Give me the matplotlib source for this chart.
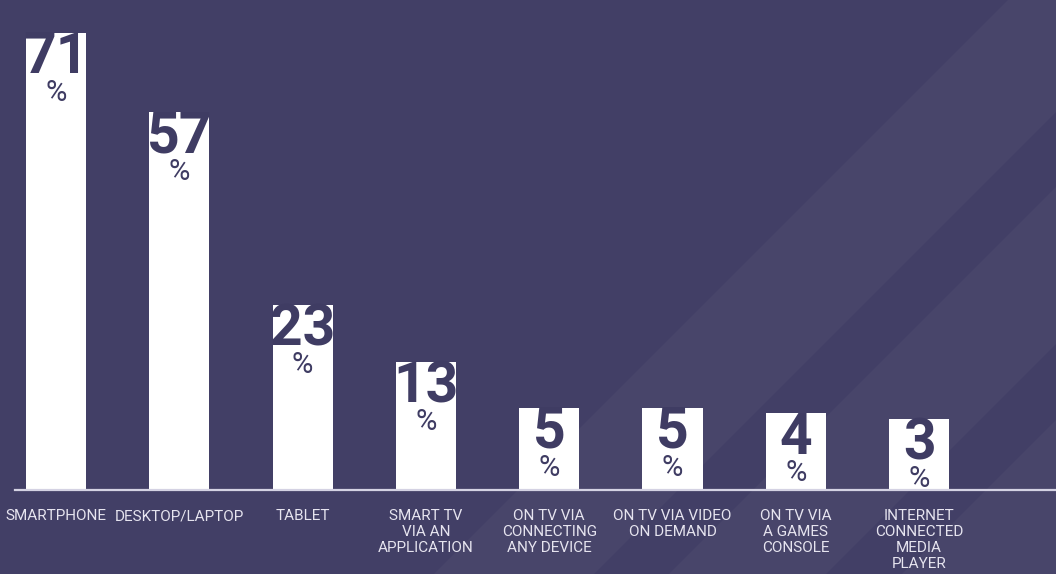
import matplotlib.pyplot as plt
import numpy as np
from matplotlib.patches import Polygon

# share of people using each device
devices = ["SMARTPHONE", "DESKTOP/LAPTOP", "TABLET", "SMART TV\nVIA AN\nAPPLICATION",
           "ON TV VIA\nCONNECTING\nANY DEVICE", "ON TV VIA VIDEO\nON DEMAND",
           "ON TV VIA\nA GAMES\nCONSOLE", "INTERNET\nCONNECTED\nMEDIA\nPLAYER"]
shares = [71, 57, 23, 13, 5, 5, 4, 3]

BG = "#423f66"
STRIPE = "#48456a"
INK = "#3f3c63"
LABEL = "#e6e4ef"

# every bar gets a fixed amount of room for its label on top of its value
LABEL_ROOM = 9.5

def fwd(v):
    v = np.asarray(v, dtype=float)
    return np.where(v > 0, v + LABEL_ROOM, v)

def inv(t):
    t = np.asarray(t, dtype=float)
    return np.where(t > LABEL_ROOM, t - LABEL_ROOM, 0.0)

W, H = 1056, 574
fig = plt.figure(figsize=(W / 100, H / 100), dpi=100, facecolor=BG)

# faint diagonal bands behind everything, in pixels from the top-left corner
bg = fig.add_axes([0, 0, 1, 1], zorder=-1)
bg.set_xlim(0, W)
bg.set_ylim(H, 0)
bg.axis("off")
for a, b in [(1008, 1168), (1243, 1400), (1476, 1700)]:
    bg.add_patch(Polygon([(a, 0), (b, 0), (b - H, H), (a - H, H)],
                         closed=True, facecolor=STRIPE, edgecolor="none"))

ax = fig.add_axes([15 / W, 84 / H, 1 - 15 / W, 490 / H])
ax.set_facecolor("none")
ax.set_yscale("function", functions=(fwd, inv))

x = np.arange(len(shares))
ax.bar(x, shares, width=0.487, color="white", zorder=2)
ax.set_xlim(-0.3325, 8.11)
ax.set_ylim(0, 76.8)

for xi, v in zip(x, shares):
    ax.annotate(str(v), (xi, v), xytext=(0, 2), textcoords="offset points",
                ha="center", va="top", fontsize=41, fontweight="bold",
                family=["Roboto", "DejaVu Sans"], color=INK, zorder=3)
    ax.annotate("%", (xi, v), xytext=(0, -33), textcoords="offset points",
                ha="center", va="top", fontsize=21,
                family=["Roboto", "DejaVu Sans"], color=INK, zorder=3)

ax.set_xticks(x, devices)
ax.tick_params(axis="x", length=0, pad=14, labelsize=11, labelcolor=LABEL)
for t in ax.get_xticklabels():
    t.set_family(["Roboto", "DejaVu Sans"])
    t.set_linespacing(1.16)
ax.set_yticks([])
ax.minorticks_off()
for side in ["left", "right", "top"]:
    ax.spines[side].set_visible(False)
ax.spines["bottom"].set_color("#d4d2e3")
ax.spines["bottom"].set_linewidth(1.6)
ax.spines["bottom"].set_zorder(4)

fig.savefig("out.png", dpi=100, facecolor=BG)
